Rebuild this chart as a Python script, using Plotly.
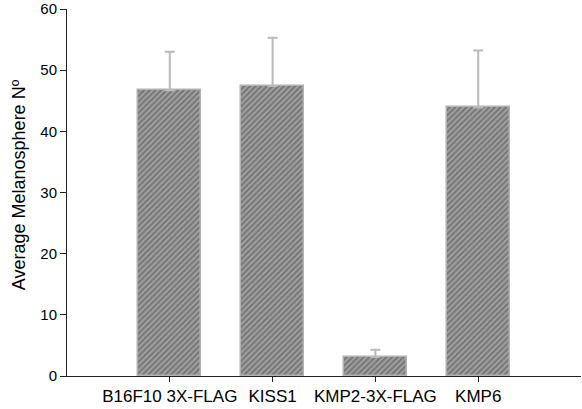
import plotly.graph_objects as go

# Melanosphere counts per construct
categories = ["B16F10 3X-FLAG", "KISS1", "KMP2-3X-FLAG", "KMP6"]
means = [46.7, 47.4, 3.1, 43.9]
errors_up = [6.3, 7.9, 1.2, 9.3]
y_ticks = [0, 10, 20, 30, 40, 50, 60]

font_family = "Liberation Sans, Arial, sans-serif"
axis_color = "#222222"

fig = go.Figure()
fig.add_trace(go.Bar(
    x=categories,
    y=means,
    width=0.61,
    marker=dict(
        color="#9c9c9c",
        line=dict(color="#b2b2b2", width=1.5),
        pattern=dict(shape="/", fgcolor="#757575", bgcolor="#a2a2a2",
                     size=4, solidity=0.5, fillmode="replace"),
    ),
    error_y=dict(type="data", symmetric=False, array=errors_up,
                 arrayminus=[0] * len(errors_up),
                 color="#bababa", thickness=2, width=5),
    showlegend=False,
))

fig.update_layout(
    width=582, height=409,
    margin=dict(l=67, r=1, t=9, b=33, autoexpand=False),
    paper_bgcolor="white", plot_bgcolor="white",
    font=dict(family=font_family, color="black"),
    bargap=0,
    xaxis=dict(
        range=[-1, 4],
        automargin=False,
        showline=True, linecolor=axis_color, linewidth=1,
        ticks="outside", ticklen=5, tickcolor=axis_color, tickwidth=1,
        tickfont=dict(size=17, family=font_family, color="black"),
        showgrid=False, zeroline=False,
    ),
    yaxis=dict(
        range=[0, 60.001],
        automargin=False,
        tickvals=y_ticks,
        ticktext=[str(v) for v in y_ticks],
        showline=True, linecolor=axis_color, linewidth=1,
        ticks="outside", ticklen=6, tickcolor=axis_color, tickwidth=1,
        tickfont=dict(size=15, family=font_family, color="black"),
        ticklabeloverflow="allow",
        showgrid=False, zeroline=False,
    ),
    annotations=[dict(
        text="Average Melanosphere Nº",
        textangle=-90,
        xref="paper", yref="paper",
        x=0, y=0.52, xanchor="center", yanchor="middle",
        xshift=-48,
        showarrow=False,
        font=dict(size=18, family=font_family, color="black"),
    )],
)

fig.write_html("out.html")
